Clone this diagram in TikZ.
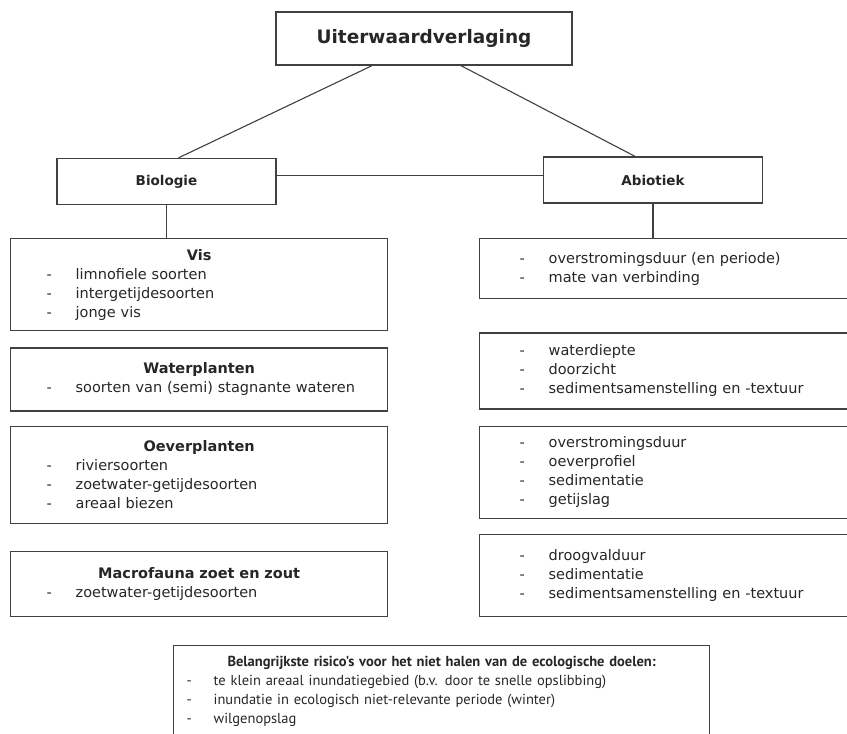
\documentclass[tikz,border=0pt]{standalone}
\usepackage{fontspec}
\setmainfont{DejaVu Sans}
\newfontfamily\smalfont{PT Sans}
\usetikzlibrary{positioning}
\newcommand{\punt}[2][29pt]{\makebox[#1][l]{-}\mbox{#2}}
\newcommand{\titel}[1]{\makebox[\linewidth][c]{\bfseries #1}}

\begin{document}
\begin{tikzpicture}[x=1pt, y=-1pt,
    lijn/.style={draw=black!75, line width=1.3pt, text=black!85},
    kop/.style={lijn, minimum width=296pt, minimum height=53pt,
      font=\fontsize{18.5}{22}\selectfont\bfseries},
    tak/.style={lijn, minimum width=219pt, minimum height=46pt,
      font=\fontsize{13.5}{16}\selectfont\bfseries},
    kader/.style={lijn, anchor=north west, align=left,
      font=\fontsize{14.5}{19}\selectfont},
    links/.style={kader, inner xsep=36pt, text width=305pt},
    rechts/.style={kader, inner xsep=40pt, text width=300pt},
    risico/.style={kader, inner xsep=13pt, text width=510pt,
      font=\smalfont\fontsize{14.5}{19}\selectfont},
    verbind/.style={draw=black!75, line width=1.1pt}]
  \useasboundingbox (0,0) rectangle (847,734);
  \clip (0,0) rectangle (847,734);
  % kop en takken
  \node[kop] (hoofd) at (424,38.5) {Uiterwaardverlaging};
  \node[tak] (bio) at (166.5,181.5) {Biologie};
  \node[tak] (abio) at (653,180) {Abiotiek};
  % biologie
  \node[links, minimum height=92pt] (vis) at (10,238)
    {\titel{Vis}\\ \punt{limnofiele soorten}\\ \punt{intergetijdesoorten}\\ \punt{jonge vis}};
  \node[links, minimum height=63pt, below=16pt of vis.south west, anchor=north west] (water)
    {\titel{Waterplanten}\\ \punt{soorten van (semi) stagnante wateren}};
  \node[links, minimum height=97pt, below=14pt of water.south west, anchor=north west] (oever)
    {\titel{Oeverplanten}\\ \punt{riviersoorten}\\ \punt{zoetwater-getijdesoorten}\\ \punt{areaal biezen}};
  \node[links, minimum height=65pt, below=27pt of oever.south west, anchor=north west] (macro)
    {\titel{Macrofauna zoet en zout}\\ \punt{zoetwater-getijdesoorten}};
  % abiotiek
  \node[rechts, minimum height=60pt] (duur) at (479,238)
    {\punt{overstromingsduur (en periode)}\\ \punt{mate van verbinding}};
  \node[rechts, minimum height=76pt, below=33pt of duur.south west, anchor=north west] (diepte)
    {\punt{waterdiepte}\\ \punt{doorzicht}\\ \punt{sedimentsamenstelling en -textuur}};
  \node[rechts, minimum height=92pt, below=16pt of diepte.south west, anchor=north west] (profiel)
    {\punt{overstromingsduur}\\ \punt{oeverprofiel}\\ \punt{sedimentatie}\\ \punt{getijslag}};
  \node[rechts, minimum height=82pt, below=15pt of profiel.south west, anchor=north west] (droog)
    {\punt{droogvalduur}\\ \punt{sedimentatie}\\ \punt{sedimentsamenstelling en -textuur}};
  % risico's
  \node[risico, minimum height=92pt] (risico) at (173,645)
    {\titel{Belangrijkste risico's voor het niet halen van de ecologische doelen:}\\
     \punt[27pt]{te klein areaal inundatiegebied (b.v. door te snelle opslibbing)}\\
     \punt[27pt]{inundatie in ecologisch niet-relevante periode (winter)}\\
     \punt[27pt]{wilgenopslag}};
  % verbindingen
  \draw[verbind] ([xshift=-52pt]hoofd.south) -- ([xshift=12pt]bio.north);
  \draw[verbind] ([xshift=37pt]hoofd.south) -- ([xshift=-18pt]abio.north);
  \draw[verbind] ([yshift=6pt]bio.east) -- ([yshift=6pt]bio.east -| abio.west);
  \draw[verbind] (bio.south) -- (bio.south |- vis.north);
  \draw[verbind] (abio.south) -- (abio.south |- duur.north);
\end{tikzpicture}
\end{document}
